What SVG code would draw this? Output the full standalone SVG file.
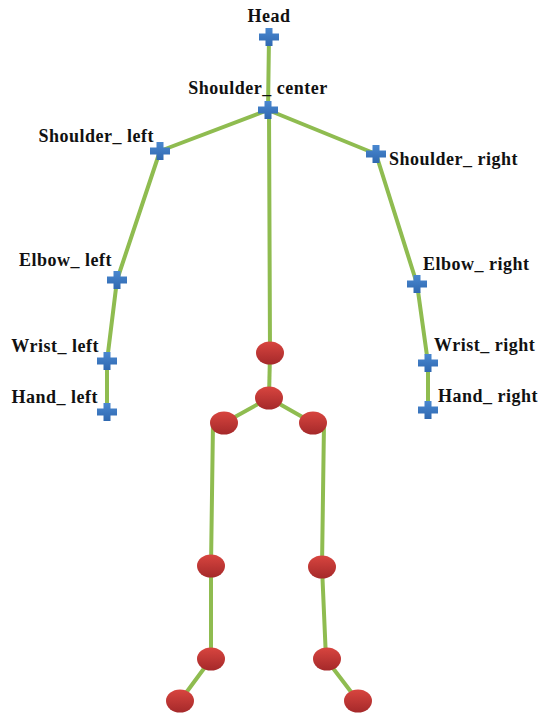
<svg xmlns="http://www.w3.org/2000/svg" width="542" height="714" viewBox="0 0 542 714">
<style>
.lbl{font-family:"Liberation Serif","Times New Roman",serif;font-weight:bold;font-size:18px;letter-spacing:0.5px;fill:#111;}
.bone{stroke:#8fbc50;stroke-width:4;stroke-linecap:round;fill:none;}
</style>
<defs>
<linearGradient id="red" x1="0" y1="0" x2="0" y2="1">
<stop offset="0" stop-color="#d8453f"/>
<stop offset="1" stop-color="#a5292a"/>
</linearGradient>
<linearGradient id="blue" x1="0" y1="0" x2="0" y2="1">
<stop offset="0" stop-color="#4a88d0"/>
<stop offset="1" stop-color="#2f68b0"/>
</linearGradient>
<path id="plus" d="M-3.5,-9 H3.5 V-3.5 H10 V3.5 H3.5 V9 H-3.5 V3.5 H-10 V-3.5 H-3.5 Z" fill="url(#blue)"/>
<ellipse id="ball" rx="14" ry="11.5" fill="url(#red)"/>
</defs>
<rect width="542" height="714" fill="#fff"/>
<g id="connectors" class="bone">
<line x1="269" y1="37" x2="268" y2="110"/>
<line x1="268" y1="110" x2="160" y2="151"/>
<line x1="268" y1="110" x2="376" y2="154"/>
<line x1="269" y1="110" x2="270" y2="353"/>
<line x1="160" y1="151" x2="117" y2="280"/>
<line x1="117" y1="280" x2="107" y2="361"/>
<line x1="107" y1="361" x2="107" y2="412"/>
<line x1="376" y1="154" x2="417" y2="284"/>
<line x1="417" y1="284" x2="428" y2="363"/>
<line x1="428" y1="363" x2="428" y2="410"/>
<line x1="270" y1="353" x2="269" y2="398"/>
<line x1="269" y1="398" x2="224" y2="423"/>
<line x1="269" y1="398" x2="313" y2="423"/>
<line x1="213" y1="423" x2="211" y2="566"/>
<line x1="324" y1="423" x2="322" y2="567"/>
<line x1="211" y1="566" x2="211" y2="659"/>
<line x1="322" y1="567" x2="326" y2="659"/>
<line x1="211" y1="659" x2="180" y2="701"/>
<line x1="326" y1="659" x2="358" y2="701"/>
</g>
<g id="head"><use href="#plus" x="269" y="37"/><text class="lbl" x="269" y="22" text-anchor="middle">Head</text></g>
<g id="shoulder_center"><use href="#plus" x="268" y="110"/><text class="lbl" x="258" y="94" text-anchor="middle">Shoulder_ center</text></g>
<g id="shoulder_left"><use href="#plus" x="160" y="151"/><text class="lbl" x="154" y="142" text-anchor="end">Shoulder_ left</text></g>
<g id="shoulder_right"><use href="#plus" x="376" y="154"/><text class="lbl" x="389" y="165">Shoulder_ right</text></g>
<g id="elbow_left"><use href="#plus" x="117" y="280"/><text class="lbl" x="112" y="266" text-anchor="end">Elbow_ left</text></g>
<g id="elbow_right"><use href="#plus" x="417" y="284"/><text class="lbl" x="423" y="270">Elbow_ right</text></g>
<g id="wrist_left"><use href="#plus" x="107" y="361"/><text class="lbl" x="99" y="352" text-anchor="end">Wrist_ left</text></g>
<g id="wrist_right"><use href="#plus" x="428" y="363"/><text class="lbl" x="434" y="351">Wrist_ right</text></g>
<g id="hand_left"><use href="#plus" x="107" y="412"/><text class="lbl" x="98" y="403" text-anchor="end">Hand_ left</text></g>
<g id="hand_right"><use href="#plus" x="428" y="410"/><text class="lbl" x="438" y="402">Hand_ right</text></g>
<g id="spine"><use href="#ball" x="270" y="353"/></g>
<g id="hip_center"><use href="#ball" x="269" y="398"/></g>
<g id="hip_left"><use href="#ball" x="224" y="423"/></g>
<g id="hip_right"><use href="#ball" x="313" y="423"/></g>
<g id="knee_left"><use href="#ball" x="211" y="566"/></g>
<g id="knee_right"><use href="#ball" x="322" y="567"/></g>
<g id="ankle_left"><use href="#ball" x="211" y="659"/></g>
<g id="ankle_right"><use href="#ball" x="327" y="659"/></g>
<g id="foot_left"><use href="#ball" x="180" y="701"/></g>
<g id="foot_right"><use href="#ball" x="358" y="701"/></g>
</svg>
